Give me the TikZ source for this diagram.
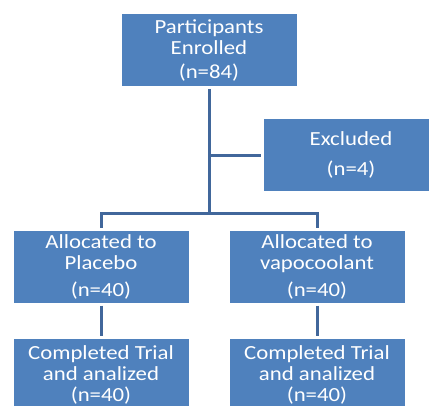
\documentclass[tikz,border=0pt]{standalone}
\usepackage{fontspec}
\setmainfont[FakeStretch=1.14]{Carlito}
\usepackage{tikz}

\definecolor{boxblue}{HTML}{4F81BD}
\definecolor{lineblue}{HTML}{41679B}

\begin{document}
\begin{tikzpicture}[x=1pt,y=-1pt]
            \tikzset{line/.style={draw=lineblue,line width=3pt}};
            \tikzset{box/.style={fill=boxblue,draw=white,line width=1pt,text=white,minimum width=176pt,minimum height=73pt,inner sep=0pt,align=center,font=\fontsize{20}{21}\selectfont}};
            
            \useasboundingbox (0,0) rectangle (429,405);
            \clip (0,0) rectangle (429,405);
            
            \node[box] (enrolled) at (209,50) {Participants\\Enrolled\\[3pt](n=84)};
            \node[box] (excluded) at (351,155) {Excluded\\[9pt](n=4)};
            
            \node[box] (placebo) at (101,266.5) {Allocated to\\Placebo\\[6pt](n=40)};
            \node[box] (vapo) at (317,266.5) {Allocated to\\vapocoolant\\[6pt](n=40)};
            
            \node[box] (doneA) at (101,375) {Completed Trial\\and analized\\(n=40)};
            \node[box] (doneB) at (317,375) {Completed Trial\\and analized\\(n=40)};
            
            \coordinate (split) at (209,213);
            \coordinate (branch) at (enrolled.south |- excluded.west);
            
            \draw[line,shorten <=2pt] (enrolled) -- (split);
            \draw[line,shorten >=2pt] (branch) -- (excluded);
            \draw[line,shorten <=2pt,shorten >=2pt] (placebo.north) |- (split) -| (vapo.north);
            \draw[line,shorten <=2pt,shorten >=2pt] (placebo) -- (doneA);
            \draw[line,shorten <=2pt,shorten >=2pt] (vapo) -- (doneB);
        \end{tikzpicture}
\end{document}
